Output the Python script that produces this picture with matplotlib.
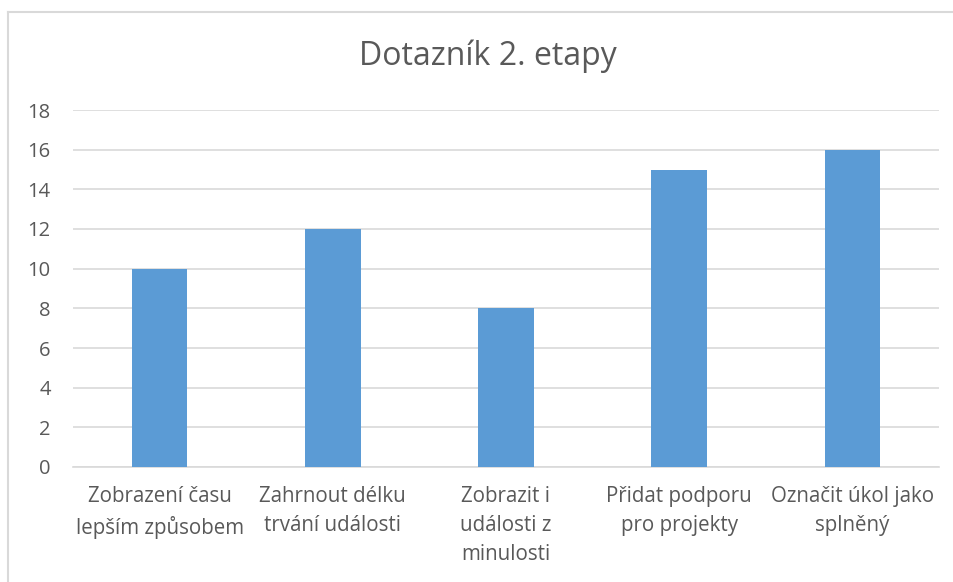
import matplotlib
matplotlib.use('Agg')
import matplotlib.pyplot as plt
from matplotlib.lines import Line2D

# data
categories = ['Zobrazení času\nlepším způsobem', 'Zahrnout délku\ntrvání události',
              'Zobrazit i\nudálosti z\nminulosti', 'Přidat podporu\npro projekty',
              'Označit úkol jako\nsplněný']
values = [10, 12, 8, 15, 16]
yticks = [0, 2, 4, 6, 8, 10, 12, 14, 16, 18]

plt.rcParams['font.family'] = ['Open Sans', 'DejaVu Sans']
text_color = '#595959'
grid_color = '#d9d9d9'

fig = plt.figure(figsize=(9.54, 5.82), dpi=100)

# chart border, only left and top edges fall inside the picture
bx, by = 8.5 / 954, 1 - 11.5 / 582
fig.add_artist(Line2D([bx, bx], [0, by], transform=fig.transFigure, color=grid_color, linewidth=1.5))
fig.add_artist(Line2D([bx, 1], [by, by], transform=fig.transFigure, color=grid_color, linewidth=1.5))

ax = fig.add_axes([73 / 954, 1 - 467 / 582, (939 - 73) / 954, (467 - 110) / 582])
x = range(len(categories))
ax.bar(x, values, width=0.32, color='#5b9bd5', zorder=3)

ax.set_xlim(-0.5, len(categories) - 0.5)
ax.set_ylim(0, 18)
ax.set_yticks(yticks)
ax.set_xticks(list(x))
ax.set_xticklabels(categories, fontsize=14.8, color=text_color, linespacing=1.48)
ax.tick_params(axis='y', labelsize=14.5, labelcolor=text_color, length=0, pad=16)
ax.tick_params(axis='x', length=0, pad=14)
ax.grid(axis='y', color=grid_color, linewidth=1.2, zorder=0)
for s in ['top', 'right', 'left']:
    ax.spines[s].set_visible(False)
ax.spines['bottom'].set_color(grid_color)
ax.spines['bottom'].set_linewidth(1.2)

fig.text(488 / 954, 1 - 56 / 582, 'Dotazník 2. etapy', ha='center', va='center',
         fontsize=23, color=text_color)

fig.savefig('out.png', dpi=100)
